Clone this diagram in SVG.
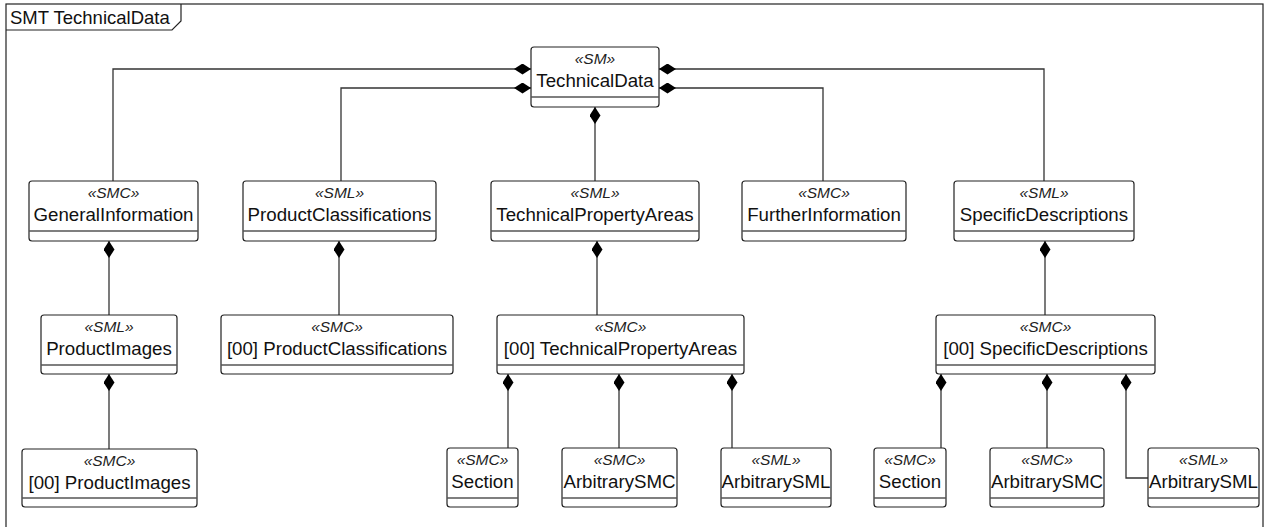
<svg xmlns="http://www.w3.org/2000/svg" width="1269" height="527" viewBox="0 0 1269 527">
<style>
.box{fill:#fff;stroke:#222;stroke-width:1.2}
.sep{stroke:#555;stroke-width:1.5}
.st{font-family:"Liberation Sans",Arial,sans-serif;font-size:15.5px;font-style:italic;text-anchor:middle;fill:#222}
.nm{font-family:"Liberation Sans",Arial,sans-serif;font-size:18.7px;text-anchor:middle;fill:#111}
.con{fill:none;stroke:#333;stroke-width:1.3}
.frame{fill:none;stroke:#222;stroke-width:1.2}
.ft{font-family:"Liberation Sans",Arial,sans-serif;font-size:18.5px;fill:#111}
</style>
<defs>
<marker id="dia" viewBox="0 0 17 11" refX="0" refY="5.5" markerWidth="17" markerHeight="11" markerUnits="userSpaceOnUse" orient="auto">
<path d="M0,5.5 L8.5,0 L17,5.5 L8.5,11 Z" fill="#000"/>
</marker>
</defs>
<rect fill="#fff" x="0" y="0" width="1269" height="527"/>
<g id="frame">
<rect class="frame" x="6" y="4" width="1257" height="530"/>
<path class="frame" d="M6,30 H172 L181,21 V4"/>
<text class="ft" x="10" y="24">SMT TechnicalData</text>
</g>
<g id="connectors">
<path class="con" marker-start="url(#dia)" d="M531,69 H113 V181"/>
<path class="con" marker-start="url(#dia)" d="M531,88 H341 V181"/>
<path class="con" marker-start="url(#dia)" d="M595,107 V181"/>
<path class="con" marker-start="url(#dia)" d="M659,69 H1044 V181"/>
<path class="con" marker-start="url(#dia)" d="M659,88 H823 V181"/>
<path class="con" marker-start="url(#dia)" d="M109,241 V315"/>
<path class="con" marker-start="url(#dia)" d="M339,241 V315"/>
<path class="con" marker-start="url(#dia)" d="M597,241 V315"/>
<path class="con" marker-start="url(#dia)" d="M1045,241 V315"/>
<path class="con" marker-start="url(#dia)" d="M109,374 V449"/>
<path class="con" marker-start="url(#dia)" d="M508,374 V448"/>
<path class="con" marker-start="url(#dia)" d="M619,374 V448"/>
<path class="con" marker-start="url(#dia)" d="M732,374 V448"/>
<path class="con" marker-start="url(#dia)" d="M941,374 V448"/>
<path class="con" marker-start="url(#dia)" d="M1047,374 V448"/>
<path class="con" marker-start="url(#dia)" d="M1126,374 V478 H1148"/>
</g>
<g id="TechnicalData">
<rect class="box" x="531" y="47" width="128" height="60" rx="3"/>
<line class="sep" x1="531" y1="97" x2="659" y2="97"/>
<text class="st" x="595" y="64">«SM»</text>
<text class="nm" x="595" y="87">TechnicalData</text>
</g>
<g id="GeneralInformation">
<rect class="box" x="29" y="181" width="169" height="60" rx="3"/>
<line class="sep" x1="29" y1="231" x2="198" y2="231"/>
<text class="st" x="113.5" y="198">«SMC»</text>
<text class="nm" x="113.5" y="221">GeneralInformation</text>
</g>
<g id="ProductClassifications">
<rect class="box" x="243" y="181" width="193" height="60" rx="3"/>
<line class="sep" x1="243" y1="231" x2="436" y2="231"/>
<text class="st" x="339.5" y="198">«SML»</text>
<text class="nm" x="339.5" y="221">ProductClassifications</text>
</g>
<g id="TechnicalPropertyAreas">
<rect class="box" x="491" y="181" width="208" height="60" rx="3"/>
<line class="sep" x1="491" y1="231" x2="699" y2="231"/>
<text class="st" x="595" y="198">«SML»</text>
<text class="nm" x="595" y="221">TechnicalPropertyAreas</text>
</g>
<g id="FurtherInformation">
<rect class="box" x="742" y="181" width="164" height="60" rx="3"/>
<line class="sep" x1="742" y1="231" x2="906" y2="231"/>
<text class="st" x="824" y="198">«SMC»</text>
<text class="nm" x="824" y="221">FurtherInformation</text>
</g>
<g id="SpecificDescriptions">
<rect class="box" x="954" y="181" width="180" height="60" rx="3"/>
<line class="sep" x1="954" y1="231" x2="1134" y2="231"/>
<text class="st" x="1044" y="198">«SML»</text>
<text class="nm" x="1044" y="221">SpecificDescriptions</text>
</g>
<g id="ProductImages">
<rect class="box" x="41" y="315" width="136" height="59" rx="3"/>
<line class="sep" x1="41" y1="365" x2="177" y2="365"/>
<text class="st" x="109" y="332">«SML»</text>
<text class="nm" x="109" y="355">ProductImages</text>
</g>
<g id="ProductClassifications00">
<rect class="box" x="221" y="315" width="232" height="59" rx="3"/>
<line class="sep" x1="221" y1="365" x2="453" y2="365"/>
<text class="st" x="337" y="332">«SMC»</text>
<text class="nm" x="337" y="355">[00] ProductClassifications</text>
</g>
<g id="TechnicalPropertyAreas00">
<rect class="box" x="497" y="315" width="247" height="59" rx="3"/>
<line class="sep" x1="497" y1="365" x2="744" y2="365"/>
<text class="st" x="620.5" y="332">«SMC»</text>
<text class="nm" x="620.5" y="355">[00] TechnicalPropertyAreas</text>
</g>
<g id="SpecificDescriptions00">
<rect class="box" x="936" y="315" width="219" height="59" rx="3"/>
<line class="sep" x1="936" y1="365" x2="1155" y2="365"/>
<text class="st" x="1045.5" y="332">«SMC»</text>
<text class="nm" x="1045.5" y="355">[00] SpecificDescriptions</text>
</g>
<g id="ProductImages00">
<rect class="box" x="22" y="449" width="175" height="58" rx="3"/>
<line class="sep" x1="22" y1="498" x2="197" y2="498"/>
<text class="st" x="109.5" y="466">«SMC»</text>
<text class="nm" x="109.5" y="489">[00] ProductImages</text>
</g>
<g id="Section1">
<rect class="box" x="447" y="448" width="71" height="59" rx="3"/>
<line class="sep" x1="447" y1="498" x2="518" y2="498"/>
<text class="st" x="482.5" y="465">«SMC»</text>
<text class="nm" x="482.5" y="488">Section</text>
</g>
<g id="ArbitrarySMC1">
<rect class="box" x="562" y="448" width="115" height="59" rx="3"/>
<line class="sep" x1="562" y1="498" x2="677" y2="498"/>
<text class="st" x="619.5" y="465">«SMC»</text>
<text class="nm" x="619.5" y="488">ArbitrarySMC</text>
</g>
<g id="ArbitrarySML1">
<rect class="box" x="721" y="448" width="110" height="59" rx="3"/>
<line class="sep" x1="721" y1="498" x2="831" y2="498"/>
<text class="st" x="776" y="465">«SML»</text>
<text class="nm" x="776" y="488">ArbitrarySML</text>
</g>
<g id="Section2">
<rect class="box" x="874" y="448" width="72" height="59" rx="3"/>
<line class="sep" x1="874" y1="498" x2="946" y2="498"/>
<text class="st" x="910" y="465">«SMC»</text>
<text class="nm" x="910" y="488">Section</text>
</g>
<g id="ArbitrarySMC2">
<rect class="box" x="990" y="448" width="114" height="59" rx="3"/>
<line class="sep" x1="990" y1="498" x2="1104" y2="498"/>
<text class="st" x="1047" y="465">«SMC»</text>
<text class="nm" x="1047" y="488">ArbitrarySMC</text>
</g>
<g id="ArbitrarySML2">
<rect class="box" x="1148" y="448" width="111" height="59" rx="3"/>
<line class="sep" x1="1148" y1="498" x2="1259" y2="498"/>
<text class="st" x="1203.5" y="465">«SML»</text>
<text class="nm" x="1203.5" y="488">ArbitrarySML</text>
</g>
</svg>
